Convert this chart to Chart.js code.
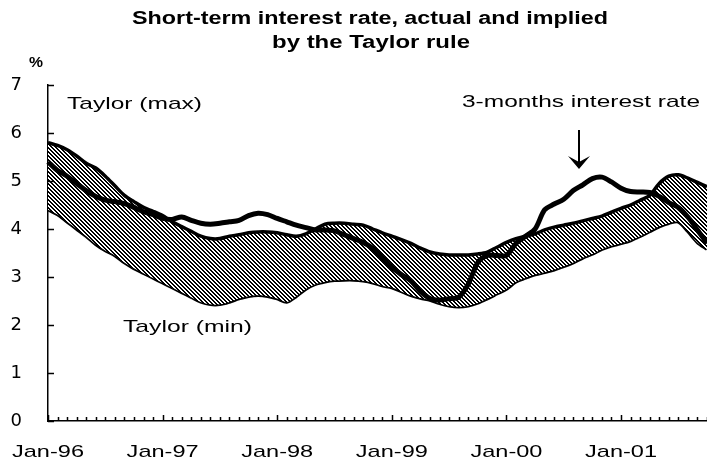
<!DOCTYPE html>
<html>
<head>
<meta charset="utf-8">
<script src="https://cdn.jsdelivr.net/npm/chart.js@4.4.1/dist/chart.umd.min.js"></script>
<style>
html, body { margin: 0; padding: 0; background: #fff; }
#wrap { width: 707px; height: 461px; }
</style>
</head>
<body>
<div id="wrap"><canvas id="taylorChart" width="707" height="461"></canvas></div>
<script>
// Short-term interest rate, actual and implied by the Taylor rule
// monthly, Jan-96 .. Oct-01

const monthNames = ['Jan', 'Feb', 'Mar', 'Apr', 'May', 'Jun', 'Jul', 'Aug', 'Sep', 'Oct', 'Nov', 'Dec'];
const years = ['96', '97', '98', '99', '00', '01'];
const tickLabels = ['Jan-96', 'Jan-97', 'Jan-98', 'Jan-99', 'Jan-00', 'Jan-01'];
const yTicks = [0, 1, 2, 3, 4, 5, 6, 7];

// category labels, one per month
const months = [];
for (let y = 0; y < years.length; y++) {
    for (let m = 0; m < 12; m++) {
        if (y == 5 && m > 9) break;
        months.push(monthNames[m] + '-' + years[y]);
    }
}

// 3-months interest rate
const rate3m = [
    5.40, 5.22, 5.10, 4.95, 4.80, 4.68, 4.60, 4.57, 4.53, 4.45, 4.36, 4.30,
    4.22, 4.20, 4.25, 4.18, 4.12, 4.10, 4.12, 4.15, 4.18, 4.28, 4.33, 4.30,
    4.22, 4.15, 4.08, 4.03, 3.98, 3.98, 3.96, 3.88, 3.80, 3.72, 3.60, 3.40,
    3.20, 3.05, 2.92, 2.70, 2.55, 2.52, 2.55, 2.58, 2.85, 3.30, 3.45, 3.45,
    3.45, 3.70, 3.85, 4.00, 4.40, 4.52, 4.62, 4.80, 4.92, 5.05, 5.08, 4.98,
    4.85, 4.78, 4.77, 4.76, 4.68, 4.55, 4.45, 4.25, 3.98, 3.70
];

// Taylor rule, upper bound
const taylorMax = [
    5.80, 5.74, 5.65, 5.52, 5.37, 5.27, 5.10, 4.90, 4.70, 4.57, 4.45, 4.37,
    4.28, 4.15, 4.05, 3.95, 3.85, 3.80, 3.80, 3.85, 3.88, 3.92, 3.94, 3.94,
    3.92, 3.88, 3.85, 3.90, 4.00, 4.10, 4.12, 4.12, 4.10, 4.08, 4.00, 3.92,
    3.85, 3.78, 3.70, 3.60, 3.52, 3.48, 3.46, 3.46, 3.46, 3.48, 3.52, 3.62,
    3.72, 3.80, 3.85, 3.90, 3.98, 4.04, 4.08, 4.12, 4.17, 4.22, 4.27, 4.35,
    4.43, 4.50, 4.60, 4.70, 4.95, 5.10, 5.13, 5.06, 4.97, 4.88
];

// Taylor rule, lower bound
const taylorMin = [
    4.40, 4.30, 4.15, 4.00, 3.85, 3.68, 3.55, 3.45, 3.30, 3.18, 3.08, 2.98,
    2.88, 2.78, 2.68, 2.58, 2.48, 2.43, 2.43, 2.48, 2.55, 2.60, 2.62, 2.60,
    2.55, 2.48, 2.60, 2.75, 2.85, 2.90, 2.93, 2.94, 2.94, 2.92, 2.88, 2.82,
    2.78, 2.70, 2.62, 2.56, 2.52, 2.45, 2.40, 2.38, 2.40, 2.46, 2.55, 2.65,
    2.75, 2.90, 2.98, 3.05, 3.10, 3.15, 3.22, 3.30, 3.40, 3.48, 3.58, 3.65,
    3.70, 3.76, 3.85, 3.95, 4.05, 4.12, 4.15, 3.95, 3.72, 3.58
];

const FONT = '"Liberation Sans", Arial, sans-serif';
const WIDE = '"DejaVu Sans", sans-serif';

// dense diagonal hatch for the Taylor band
function makeHatch() {
    let c = document.createElement('canvas');
    c.width = 4;
    c.height = 4;
    let g = c.getContext('2d');
    g.fillStyle = '#fff';
    g.fillRect(0, 0, 4, 4);
    g.fillStyle = '#000';
    for (let i = 0; i < 4; i++) {
        g.fillRect(i, i, 1, 1);
        g.fillRect((i + 1) % 4, i, 1, 1);
    }
    return g.createPattern(c, 'repeat');
}

// the scanned lettering is wide, so stretch text to its measured width
function wideText(ctx, text, left, y, width) {
    let w = ctx.measureText(text).width;
    ctx.save();
    ctx.translate(left, y);
    ctx.scale(width / w, 1);
    ctx.textAlign = 'left';
    ctx.fillText(text, 0, 0);
    ctx.restore();
}

// titles, labels, inward ticks and the arrow
const extras = {
    id: 'extras',
    afterDraw(chart) {
        const ctx = chart.ctx;
        const xs = chart.scales.x;
        const ys = chart.scales.y;
        ctx.save();
        ctx.strokeStyle = '#000';
        ctx.lineWidth = 1.5;
        ctx.beginPath();
        yTicks.forEach(v => {
            let py = Math.round(ys.getPixelForValue(v)) + 0.5;
            ctx.moveTo(xs.left, py);
            ctx.lineTo(xs.left + 6, py);
        });
        months.forEach((m, i) => {
            let px = Math.round(xs.getPixelForValue(i)) + 0.5;
            let len = tickLabels.includes(m) ? 6 : 4;
            ctx.moveTo(px, ys.bottom);
            ctx.lineTo(px, ys.bottom - len);
        });
        ctx.stroke();

        ctx.fillStyle = '#000';
        ctx.textBaseline = 'middle';

        // year labels under the x axis
        ctx.font = '17px ' + FONT;
        tickLabels.forEach(lab => {
            let px = xs.getPixelForValue(months.indexOf(lab));
            wideText(ctx, lab, px - 36, 452, 72);
        });

        ctx.font = 'bold 18px ' + FONT;
        wideText(ctx, 'Short-term interest rate, actual and implied', 132, 19, 476);
        wideText(ctx, 'by the Taylor rule', 272, 43, 198);

        ctx.font = 'bold 15px ' + FONT;
        wideText(ctx, '%', 29, 63, 14);

        ctx.font = '17px ' + FONT;
        wideText(ctx, 'Taylor (max)', 67, 104, 135);
        wideText(ctx, 'Taylor (min)', 123, 327, 129);
        wideText(ctx, '3-months interest rate', 462, 102, 238);

        // arrow to the 3-months rate
        ctx.lineWidth = 2;
        ctx.beginPath();
        ctx.moveTo(579, 130);
        ctx.lineTo(579, 164);
        ctx.stroke();
        ctx.beginPath();
        ctx.moveTo(568, 156);
        ctx.lineTo(579, 169);
        ctx.lineTo(590, 156);
        ctx.lineTo(579, 162);
        ctx.closePath();
        ctx.fill();
        ctx.restore();
    }
};

let ctx = document.getElementById('taylorChart').getContext('2d');

let myChart = new Chart(ctx, {
    type: 'line',
    data: {
        labels: months,
        datasets: [{
            label: '3-months interest rate',
            data: rate3m,
            borderColor: '#000',
            borderWidth: 5,
            pointRadius: 0,
            tension: 0.3,
            fill: false
        }, {
            label: 'Taylor (max)',
            data: taylorMax,
            borderColor: '#000',
            borderWidth: 3.5,
            pointRadius: 0,
            tension: 0.3,
            fill: '+1',
            backgroundColor: makeHatch()
        }, {
            label: 'Taylor (min)',
            data: taylorMin,
            borderColor: '#000',
            borderWidth: 3.5,
            pointRadius: 0,
            tension: 0.3,
            fill: false
        }]
    },
    options: {
        responsive: false,
        animation: false,
        devicePixelRatio: 1,
        layout: { padding: { top: 85, right: 0, bottom: 0, left: 0 } },
        plugins: {
            legend: { display: false },
            tooltip: { enabled: false },
            title: { display: false }
        },
        scales: {
            x: {
                afterFit: s => {
                    s.height = 40;
                    s.paddingLeft = 0;
                    s.paddingRight = 0;
                },
                grid: { display: true, drawOnChartArea: false, drawTicks: false },
                border: { display: true, color: '#000', width: 1.5 },
                ticks: { display: false, autoSkip: false, maxRotation: 0 }
            },
            y: {
                min: 0,
                max: 7,
                afterFit: s => { s.width = 48; },
                grid: { display: true, drawOnChartArea: false, drawTicks: false },
                border: { display: true, color: '#000', width: 1.5 },
                ticks: {
                    stepSize: 1,
                    padding: 26,
                    color: '#000',
                    font: { family: WIDE, size: 18 }
                }
            }
        }
    },
    plugins: [extras]
});
</script>
</body>
</html>
